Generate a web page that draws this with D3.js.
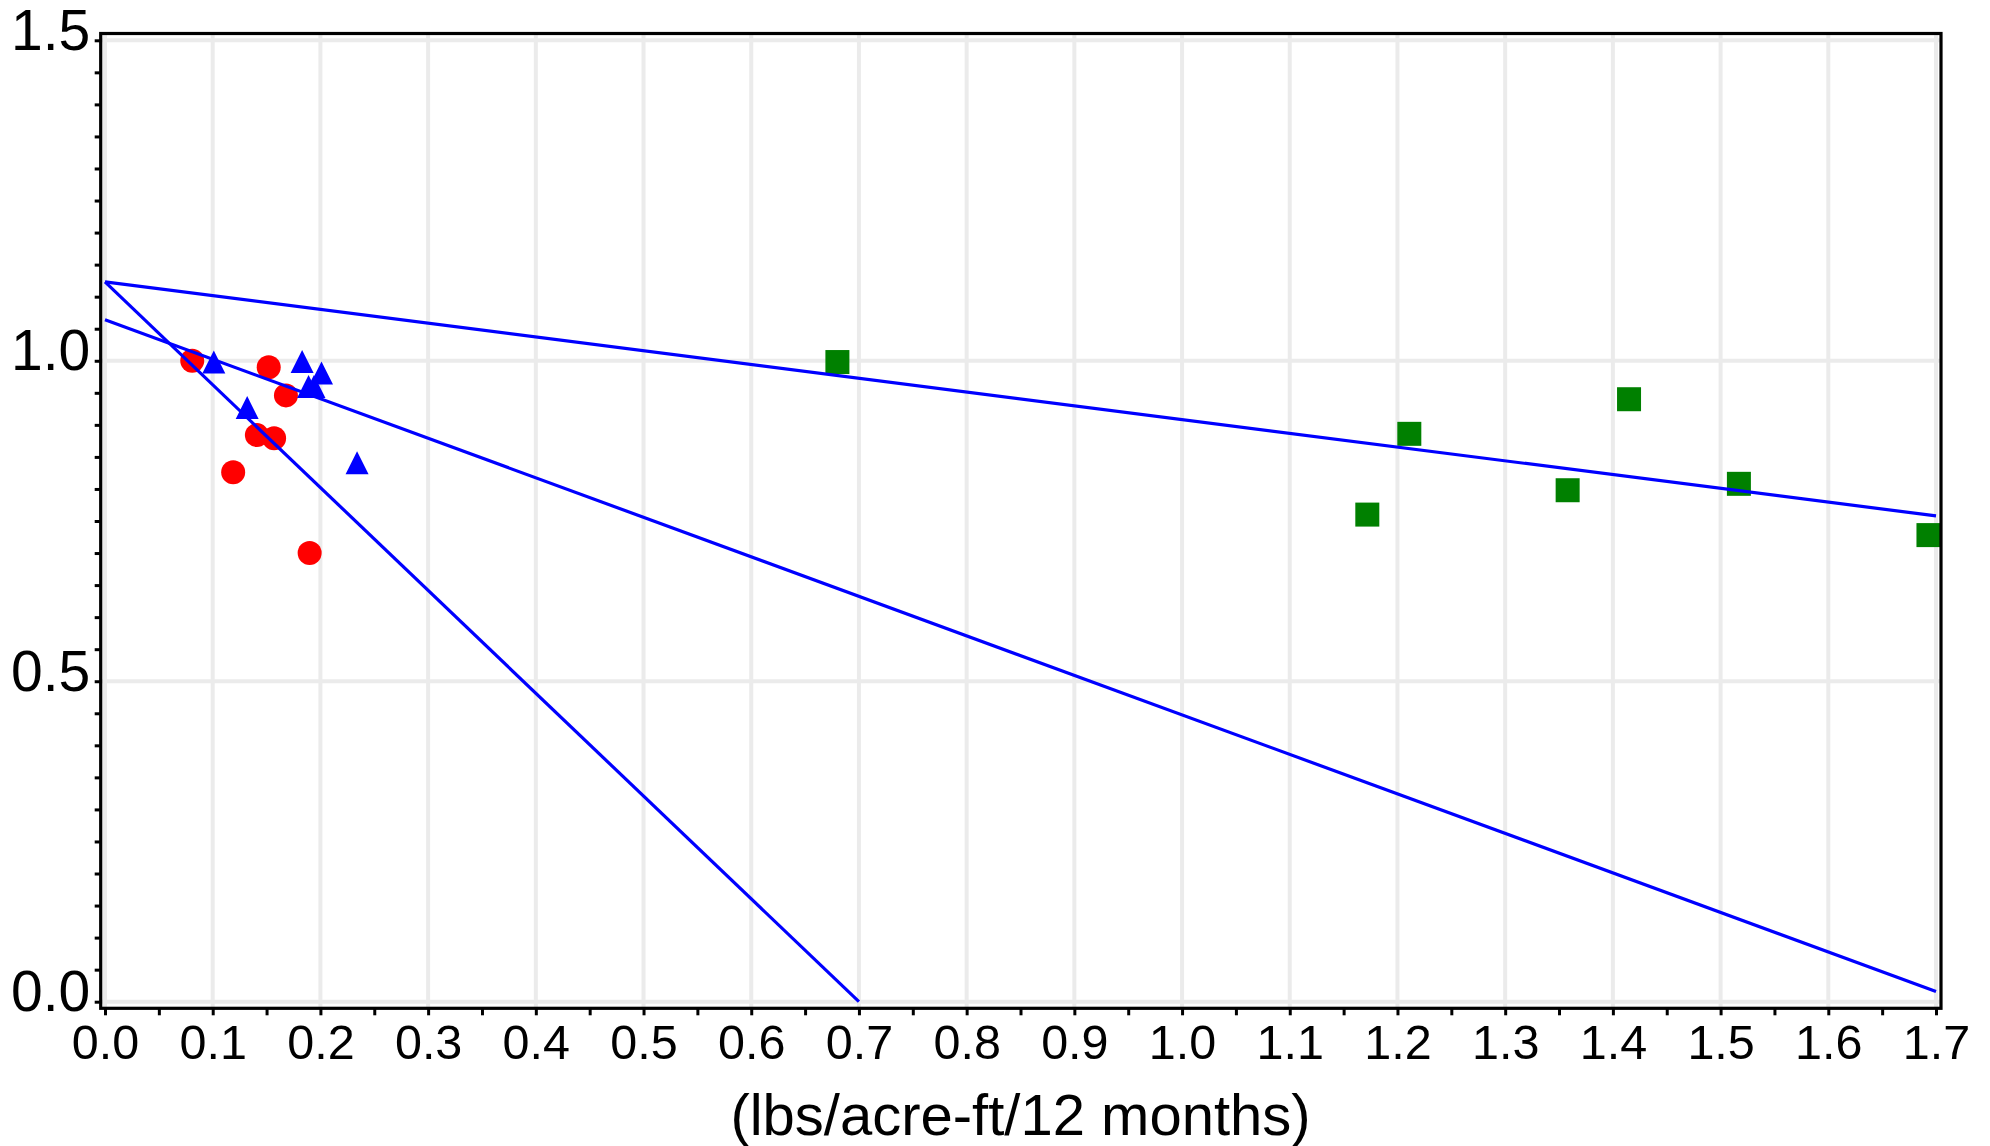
<!DOCTYPE html>
<html>
<head>
<meta charset="utf-8">
<script src="https://cdn.jsdelivr.net/npm/d3@7"></script>
<style>
  html, body { margin: 0; padding: 0; background: #fff; }
  svg { display: block; font-family: "Liberation Sans", Arial, Helvetica, sans-serif; }
</style>
</head>
<body>
<svg id="chart" width="1990" height="1146"></svg>
<script>
// Observations: x in lbs/acre-ft/12 months, y on the 0–1.5 scale
const circleX = [0.081, 0.152, 0.168, 0.141, 0.157, 0.119, 0.190];
const circleY = [1.000, 0.990, 0.946, 0.884, 0.879, 0.826, 0.700];

const triangleX = [0.101, 0.132, 0.183, 0.201, 0.189, 0.194, 0.234];
const triangleY = [0.998, 0.927, 0.999, 0.981, 0.960, 0.960, 0.841];

const squareX = [0.680, 1.172, 1.211, 1.358, 1.415, 1.517, 1.693];
const squareY = [0.998, 0.760, 0.886, 0.798, 0.940, 0.808, 0.728];

// Fitted lines: start and end points [x0, y0, x1, y1]
const fitSteep  = [0.000, 1.123, 0.700, 0.000];
const fitMiddle = [0.000, 1.064, 1.700, 0.016];
const fitUpper  = [0.000, 1.123, 1.700, 0.758];

// Axis ticks
const xMajorTicks = d3.range(0, 18).map(i => i / 10);
const xMinorTicks = d3.range(0, 35).map(i => i / 20);
const yMajorTicks = [0.0, 0.5, 1.0, 1.5];
const yMinorTicks = d3.range(0, 31).map(i => i / 20);
const xTitle = "(lbs/acre-ft/12 months)";

const svg = d3.select("#chart");

const x = d3.scaleLinear().domain([0, 1.7]).range([105, 1936]);
const y = d3.scaleLinear().domain([0, 1.5]).range([1001.7, 40.3]);

// Frame sits a few pixels outside the data range
const frame = { left: x(0) - 4.3, right: x(1.7) + 5, top: y(1.5) - 6.8, bottom: y(0) + 6.6 };

// Gridlines
const grid = svg.append("g").attr("stroke", "#ebebeb").attr("stroke-width", 4);
grid.selectAll("line.v").data(xMajorTicks).join("line")
  .attr("class", "v")
  .attr("x1", d => x(d)).attr("x2", d => x(d))
  .attr("y1", frame.top).attr("y2", frame.bottom);
grid.selectAll("line.h").data(yMajorTicks).join("line")
  .attr("class", "h")
  .attr("x1", frame.left).attr("x2", frame.right)
  .attr("y1", d => y(d)).attr("y2", d => y(d));

// Points
const pts = svg.append("g");
pts.selectAll("circle").data(circleX.map((v, i) => [v, circleY[i]])).join("circle")
  .attr("cx", d => x(d[0])).attr("cy", d => y(d[1])).attr("r", 12)
  .attr("fill", "#ff0000");

const triW = 23, triH = 23;
pts.selectAll("path.tri").data(triangleX.map((v, i) => [v, triangleY[i]])).join("path")
  .attr("class", "tri")
  .attr("d", `M0,${-triH / 2}L${triW / 2},${triH / 2}L${-triW / 2},${triH / 2}Z`)
  .attr("transform", d => `translate(${x(d[0])},${y(d[1])})`)
  .attr("fill", "#0000ff");

pts.selectAll("rect").data(squareX.map((v, i) => [v, squareY[i]])).join("rect")
  .attr("x", d => x(d[0]) - 12).attr("y", d => y(d[1]) - 12)
  .attr("width", 24).attr("height", 24)
  .attr("fill", "#008000");

// Fitted lines
svg.append("g").attr("stroke", "#0000ff").attr("stroke-width", 3.2).attr("fill", "none")
  .selectAll("line").data([fitSteep, fitMiddle, fitUpper]).join("line")
  .attr("x1", d => x(d[0])).attr("y1", d => y(d[1]))
  .attr("x2", d => x(d[2])).attr("y2", d => y(d[3]));

// Frame
svg.append("rect")
  .attr("x", frame.left).attr("y", frame.top)
  .attr("width", frame.right - frame.left).attr("height", frame.bottom - frame.top)
  .attr("fill", "none").attr("stroke", "#000").attr("stroke-width", 3.2);

const isMajor = (d, list) => list.some(m => Math.abs(m - d) < 1e-9);

// Bottom axis
const xAxis = svg.append("g")
  .attr("transform", `translate(0,${frame.bottom})`)
  .call(d3.axisBottom(x).tickValues(xMinorTicks).tickSize(7).tickSizeOuter(0)
    .tickFormat(d => isMajor(d, xMajorTicks) ? d3.format(".1f")(d) : ""));
xAxis.select(".domain").remove();
xAxis.selectAll(".tick line").attr("stroke", "#000").attr("stroke-width", 3);
xAxis.selectAll(".tick text")
  .attr("y", 51).attr("dy", null)
  .attr("font-size", 48.5).attr("fill", "#000")
  .attr("font-family", "Liberation Sans, Arial, sans-serif");

// Left axis
const yAxis = svg.append("g")
  .attr("transform", `translate(${frame.left},0)`)
  .call(d3.axisLeft(y).tickValues(yMinorTicks).tickSize(6).tickSizeOuter(0)
    .tickFormat(d => isMajor(d, yMajorTicks) ? d3.format(".1f")(d) : ""));
yAxis.select(".domain").remove();
yAxis.selectAll(".tick line").attr("stroke", "#000").attr("stroke-width", 3);
yAxis.selectAll(".tick text")
  .attr("x", -10.5).attr("y", 9).attr("dy", null)
  .attr("font-size", 57).attr("fill", "#000")
  .attr("font-family", "Liberation Sans, Arial, sans-serif");

// Axis title
svg.append("text")
  .attr("x", (x(0) + x(1.7)) / 2).attr("y", 1135)
  .attr("text-anchor", "middle")
  .attr("font-size", 58).attr("fill", "#000")
  .text(xTitle);
</script>
</body>
</html>
